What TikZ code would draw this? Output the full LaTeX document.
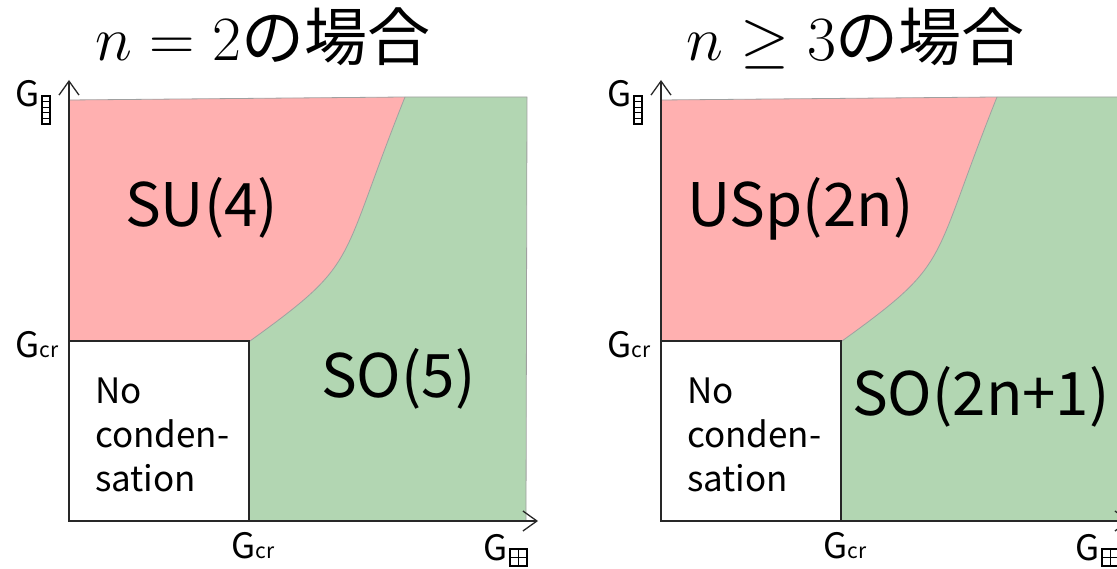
\RequirePackage{fix-cm}
\documentclass[tikz,border=0pt]{standalone}
\usepackage[no-math]{fontspec}
\setmainfont{Noto Sans CJK JP}
\usetikzlibrary{arrows.meta}
\definecolor{pinkr}{RGB}{255,176,176}
\definecolor{greenr}{RGB}{178,214,178}
\definecolor{edgegray}{RGB}{160,160,160}
\definecolor{axisgray}{RGB}{40,40,40}
\tikzset{
  axisline/.style={draw=axisgray, line width=1.3pt, -{Straight Barb[length=14pt,width=20pt,line width=1.3pt]}},
  regionedge/.style={draw=edgegray, line width=0.8pt},
  nobox/.style={draw=black!85, fill=white, line width=1.4pt},
  glyph/.style={draw=black, line width=1.5pt},
  titletext/.style={anchor=base west, inner sep=0pt, font=\fontsize{63}{63}\selectfont},
  grouptext/.style={anchor=base west, inner sep=0pt, font=\fontsize{60}{60}\selectfont},
  notext/.style={anchor=base west, inner sep=0pt, align=left, font=\fontsize{35}{44}\selectfont},
  axistext/.style={anchor=base west, inner sep=0pt, font=\fontsize{35}{35}\selectfont},
}
\newcommand{\crsub}{{\fontsize{21}{21}\selectfont cr}}
\begin{document}
\begin{tikzpicture}[x=1pt,y=-1pt]
\useasboundingbox (0,0) rectangle (1117,569);

% titles
\node[titletext] (t1) at (95,61) {$n=2$の場合};
\node[titletext] (t2) at (686,61) {$n\geq 3$の場合};

\foreach \dx/\pn in {0/l,592/r}{
\begin{scope}[xshift=\dx pt]
  % regions
  \fill[pinkr] (69,100) -- (69,341) -- (250,341)
     .. controls (361,261) and (337,267) .. (405,97) -- cycle;
  \fill[greenr] (250,341)
     .. controls (361,261) and (337,267) .. (405,97)
     -- (527,97) -- (526,521) -- (250,521) -- cycle;
  \draw[regionedge] (250,341) .. controls (361,261) and (337,267) .. (405,97);
  \draw[regionedge] (69,100) -- (405,97) -- (527,97) -- (526,521);
  % no condensation box
  \draw[nobox] (69,341) rectangle (249,521);
  % axes
  \coordinate (o\pn) at (69,521);
  \coordinate (ytip\pn) at (69,80);
  \coordinate (xtip\pn) at (538,521);
  \draw[axisline] (o\pn) -- (ytip\pn);
  \draw[axisline] (o\pn) -- (xtip\pn);
  % axis labels
  \node[axistext] (gy\pn) at (15,107) {G};
  \draw[glyph] (42,96) rectangle (50,124);
  \foreach \yy in {101.6,107.2,112.8,118.4}{\draw[glyph, line width=1.2pt] (42,\yy) -- (50,\yy);}
  \node[axistext] (gcry\pn) at (15,358) {G\crsub};
  \node[axistext] (gcrx\pn) at (231,558) {G\crsub};
  \node[axistext] (gx\pn) at (483,560) {G};
  \draw[glyph] (510,549) rectangle (527,566);
  \draw[glyph, line width=1.2pt] (518.5,549) -- (518.5,566) (510,557.5) -- (527,557.5);
  \node[notext] (nc\pn) at (95,491) {No\\conden-\\sation};
\end{scope}
}

% region labels
\node[grouptext] (su) at (125,227) {SU(4)};
\node[grouptext] (so5) at (321,398) {SO(5)};
\node[grouptext] (usp) at (687,227) {USp(2n)};
\node[grouptext] (so2n) at (852,415) {SO(2n+1)};
\end{tikzpicture}
\end{document}
